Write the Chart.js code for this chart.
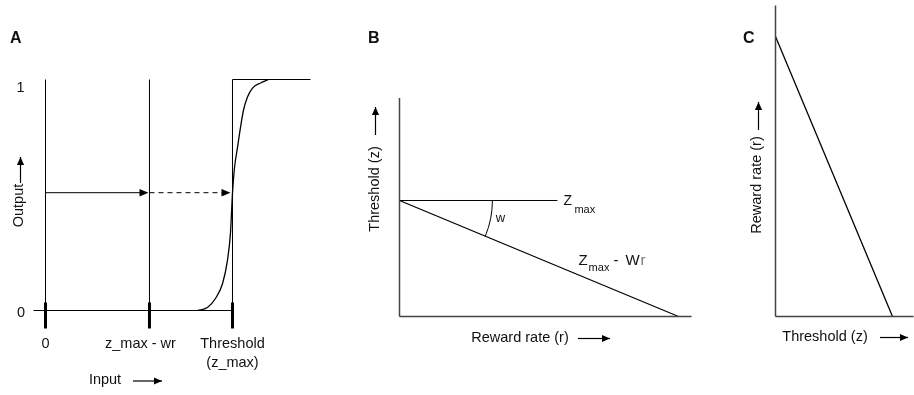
<!DOCTYPE html>
<html>
<head>
<meta charset="utf-8">
<script src="https://cdn.jsdelivr.net/npm/chart.js@4.4.0/dist/chart.umd.min.js"></script>
<style>
  html, body { margin: 0; padding: 0; background: #fff; }
  #wrap { position: relative; width: 914px; height: 395px; overflow: hidden; }
  .panel { position: absolute; top: 0; height: 395px; }
  #panelA { left: 0; width: 330px; }
  #panelB { left: 340px; width: 360px; }
  #panelC { left: 720px; width: 194px; }
</style>
</head>
<body>
<div id="wrap">
  <div class="panel" id="panelA"><canvas id="chartA"></canvas></div>
  <div class="panel" id="panelB"><canvas id="chartB"></canvas></div>
  <div class="panel" id="panelC"><canvas id="chartC"></canvas></div>
</div>
<script>
// panel A - output vs input (threshold = 1)
const inputTicks = [0, 0.556, 1];
const inputTickLabels = ['0', 'z_max - wr', ['Threshold', '(z_max)']];
const outputTicks = [0, 1];
const outputTickLabels = ['0', '1'];
const stepInput = [-0.064, 1, 1, 1.417];
const stepOutput = [0, 0, 1, 1];
const sigmoidInput = [0.813, 0.866, 0.909, 0.947, 0.973, 0.989, 1.0, 1.011, 1.027, 1.043, 1.059, 1.080, 1.107, 1.150, 1.193];
const sigmoidOutput = [0, 0.013, 0.052, 0.117, 0.217, 0.334, 0.508, 0.620, 0.707, 0.794, 0.868, 0.924, 0.963, 0.985, 1.0];
const arrowOutput = 0.51;

// panel B - threshold vs reward rate
const rewardRate = [0, 1];
const thresholdLine = [1, 0];
const zMax = 1;
const zMaxLineEnd = 0.566;
const rewardAxisEnd = 1.047;
const thresholdAxisEnd = 1.884;
const angleRadius = 0.333;

// panel C - reward rate vs threshold
const thresholdC = [0, 1];
const rewardC = [1, 0];
const thresholdAxisEndC = 1.18;
const rewardAxisEndC = 1.111;

const FONT = '"Liberation Sans", Arial, sans-serif';

function pts(xs, ys) {
  return xs.map((x, i) => ({x: x, y: ys[i]}));
}

function line(data, opts) {
  return Object.assign({
    data: data, showLine: true, borderColor: '#000', borderWidth: 1,
    pointRadius: 0, fill: false, tension: 0
  }, opts || {});
}

function baseOptions(xMin, xMax, yMin, yMax) {
  return {
    responsive: true,
    maintainAspectRatio: false,
    animation: false,
    events: [],
    layout: {padding: 0},
    plugins: {legend: {display: false}, tooltip: {enabled: false}},
    scales: {
      x: {type: 'linear', display: false, min: xMin, max: xMax},
      y: {type: 'linear', display: false, min: yMin, max: yMax}
    }
  };
}

function arrowHead(ctx, x, y, dir, len, half) {
  ctx.beginPath();
  if (dir === 'right') {
    ctx.moveTo(x, y); ctx.lineTo(x - len, y - half); ctx.lineTo(x - len, y + half);
  } else {
    ctx.moveTo(x, y); ctx.lineTo(x - half, y + len); ctx.lineTo(x + half, y + len);
  }
  ctx.closePath();
  ctx.fill();
}

function labelArrow(ctx, x1, y1, x2, y2, dir) {
  ctx.save();
  ctx.lineWidth = 1.2;
  ctx.fillStyle = '#000';
  ctx.beginPath();
  ctx.moveTo(x1, y1);
  ctx.lineTo(x2, y2);
  ctx.stroke();
  arrowHead(ctx, x2, y2, dir, 8, 3.6);
  ctx.restore();
}

function rotatedText(ctx, text, x, y) {
  ctx.save();
  ctx.translate(x, y);
  ctx.rotate(-Math.PI / 2);
  ctx.textAlign = 'center';
  ctx.textBaseline = 'middle';
  ctx.fillText(text, 0, 0);
  ctx.restore();
}

function panelLetter(ctx, letter, x) {
  ctx.font = 'bold 16px ' + FONT;
  ctx.textAlign = 'left';
  ctx.textBaseline = 'alphabetic';
  ctx.fillText(letter, x, 43);
}

// ---------- A ----------
const drawA = {
  id: 'drawA',
  afterDraw(chart) {
    const ctx = chart.ctx;
    const px = v => chart.scales.x.getPixelForValue(v);
    const py = v => chart.scales.y.getPixelForValue(v);
    ctx.save();
    ctx.fillStyle = '#000';
    ctx.strokeStyle = '#000';
    ctx.lineWidth = 1;
    arrowHead(ctx, px(inputTicks[1]) - 1, py(arrowOutput), 'right', 9, 3.8);
    arrowHead(ctx, px(inputTicks[2]) - 2, py(arrowOutput), 'right', 9, 3.8);

    ctx.fillStyle = '#111';
    ctx.font = '14.5px ' + FONT;
    ctx.textAlign = 'center';
    ctx.textBaseline = 'middle';
    inputTickLabels.forEach((lab, i) => {
      const nudge = i === 1 ? -9 : 0;
      [].concat(lab).forEach((t, j) => {
        ctx.fillText(t, px(inputTicks[i]) + nudge, py(0) + 33 + j * 19);
      });
    });
    ctx.fillText(outputTickLabels[0], 21, py(outputTicks[0]) + 2);
    ctx.fillText(outputTickLabels[1], 20.5, py(outputTicks[1]) + 8);

    rotatedText(ctx, 'Output', 19, 205.5);
    labelArrow(ctx, 20.5, 183, 20.5, 157, 'up');
    ctx.fillText('Input', 105, 380);
    labelArrow(ctx, 133, 381, 162, 381, 'right');

    panelLetter(ctx, 'A', 10);
    ctx.restore();
  }
};

const dataA = [
  line(pts(stepInput, stepOutput)),
  line(pts([inputTicks[0], inputTicks[0]], [0, 1])),
  line(pts([inputTicks[1], inputTicks[1]], [0, 1])),
  line(pts(sigmoidInput, sigmoidOutput), {tension: 0.4, cubicInterpolationMode: 'monotone', borderWidth: 1.3}),
  line(pts([inputTicks[0], inputTicks[1] - 0.03], [arrowOutput, arrowOutput])),
  line(pts([inputTicks[1], inputTicks[2] - 0.04], [arrowOutput, arrowOutput]), {borderDash: [5, 4]})
];
inputTicks.forEach(t => {
  dataA.push(line(pts([t, t], [0.035, -0.078]), {borderWidth: 3}));
});

new Chart(document.getElementById('chartA'), {
  type: 'scatter',
  data: {datasets: dataA},
  options: baseOptions(-0.2433, 1.5214, -0.3658, 1.3442),
  plugins: [drawA]
});

// ---------- B ----------
const drawB = {
  id: 'drawB',
  afterDraw(chart) {
    const ctx = chart.ctx;
    const px = v => chart.scales.x.getPixelForValue(v);
    const py = v => chart.scales.y.getPixelForValue(v);
    ctx.save();
    ctx.strokeStyle = '#000';
    ctx.fillStyle = '#000';
    ctx.lineWidth = 1;

    // angle w between z_max and the sloped line
    const cx = px(0), cy = py(zMax);
    const ang = Math.atan2(py(0) - py(zMax), px(1) - px(0));
    ctx.beginPath();
    ctx.arc(cx, cy, px(angleRadius) - px(0), 0, ang);
    ctx.stroke();

    ctx.fillStyle = '#111';
    ctx.font = '13px ' + FONT;
    ctx.textAlign = 'center';
    ctx.textBaseline = 'middle';
    ctx.fillText('w', cx + 101, cy + 18);

    ctx.textAlign = 'left';
    ctx.textBaseline = 'alphabetic';
    const zx = px(zMaxLineEnd) + 6, zy = py(zMax) + 5;
    ctx.font = '14px ' + FONT;
    ctx.fillText('Z', zx, zy);
    ctx.font = '11px ' + FONT;
    ctx.fillText('max', zx + 11, zy + 8);

    const lx = px(0.642), ly = py(1 - 0.642) - 10;
    ctx.font = '15px ' + FONT;
    ctx.fillText('Z', lx, ly);
    ctx.font = '11px ' + FONT;
    ctx.fillText('max', lx + 10, ly + 6);
    ctx.font = '15px ' + FONT;
    ctx.fillText('-', lx + 35, ly);
    ctx.fillText('W', lx + 47, ly);
    ctx.fillStyle = '#777';
    ctx.fillText('r', lx + 62, ly);

    ctx.fillStyle = '#111';
    ctx.strokeStyle = '#000';
    ctx.font = '14.5px ' + FONT;
    rotatedText(ctx, 'Threshold (z)', 35, 189);
    labelArrow(ctx, 35.5, 135, 35.5, 107, 'up');
    ctx.textAlign = 'center';
    ctx.textBaseline = 'middle';
    ctx.fillText('Reward rate (r)', 180, 338);
    labelArrow(ctx, 238, 338.5, 270, 338.5, 'right');

    panelLetter(ctx, 'B', 28);
    ctx.restore();
  }
};

new Chart(document.getElementById('chartB'), {
  type: 'scatter',
  data: {
    datasets: [
      line(pts([0, 0], [0, thresholdAxisEnd]), {borderColor: '#444', borderWidth: 1.5}),
      line(pts([0, rewardAxisEnd], [0, 0]), {borderColor: '#444', borderWidth: 1.5}),
      line(pts([0, zMaxLineEnd], [zMax, zMax])),
      line(pts(rewardRate, thresholdLine), {borderWidth: 1.3})
    ]
  },
  options: baseOptions(-0.21326, 1.07706, -0.6767, 2.7284),
  plugins: [drawB]
});

// ---------- C ----------
const drawC = {
  id: 'drawC',
  afterDraw(chart) {
    const ctx = chart.ctx;
    ctx.save();
    ctx.fillStyle = '#111';
    ctx.strokeStyle = '#000';
    ctx.lineWidth = 1;
    ctx.font = '14.5px ' + FONT;
    rotatedText(ctx, 'Reward rate (r)', 37, 185);
    labelArrow(ctx, 38.5, 130, 38.5, 102, 'up');
    ctx.textAlign = 'center';
    ctx.textBaseline = 'middle';
    ctx.fillText('Threshold (z)', 105, 337);
    labelArrow(ctx, 160, 337.5, 188, 337.5, 'right');
    panelLetter(ctx, 'C', 23);
    ctx.restore();
  }
};

new Chart(document.getElementById('chartC'), {
  type: 'scatter',
  data: {
    datasets: [
      line(pts([0, 0], [0, rewardAxisEndC]), {borderColor: '#444', borderWidth: 1.5}),
      line(pts([0, thresholdAxisEndC], [0, 0]), {borderColor: '#444', borderWidth: 1.5}),
      line(pts(thresholdC, rewardC), {borderWidth: 1.3})
    ]
  },
  options: baseOptions(-0.47436, 1.18376, -0.28036, 1.13036),
  plugins: [drawC]
});
</script>
</body>
</html>
